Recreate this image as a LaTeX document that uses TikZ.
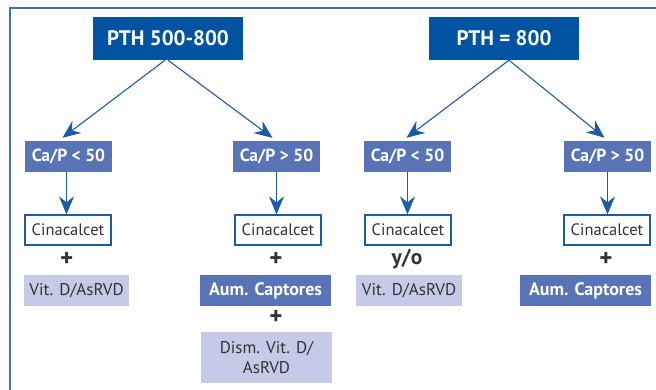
\documentclass[tikz,border=0pt]{standalone}
\usepackage{fontspec}
\setmainfont{PT Sans}
\usetikzlibrary{arrows.meta,positioning}
\definecolor{pthblue}{HTML}{0053A1}
\definecolor{midblue}{HTML}{5874B6}
\definecolor{lightlav}{HTML}{C5CBE6}
\definecolor{linkblue}{HTML}{1C5BA8}
\definecolor{framec}{HTML}{3F70B6}
\definecolor{txt}{HTML}{333333}
\tikzset{
  pthbox/.style={fill=pthblue, text=white, font=\fontsize{21}{23}\selectfont\bfseries, minimum width=150pt, minimum height=43pt, inner sep=0pt},
  cabox/.style={fill=midblue, text=white, font=\fontsize{17.5}{19}\selectfont\bfseries, minimum width=87pt, minimum height=31pt, inner sep=0pt},
  cinbox/.style={draw=linkblue, line width=1.2pt, fill=white, text=txt, font=\fontsize{16.5}{18}\selectfont, minimum width=86pt, minimum height=30pt, inner sep=0pt},
  vitbox/.style={fill=lightlav, text=txt, font=\fontsize{17}{18}\selectfont, minimum height=31pt, inner sep=0pt},
  aumbox/.style={fill=midblue, text=white, font=\fontsize{18}{19}\selectfont\bfseries, minimum width=131pt, minimum height=31pt, inner sep=0pt},
  joiner/.style={text=txt, font=\fontsize{21.5}{22}\selectfont\bfseries, inner sep=0pt},
  plus/.style={text=txt, font=\fontsize{25}{25}\selectfont\bfseries, inner sep=0pt},
  link/.style={draw=linkblue, line width=1.1pt, -{Stealth[length=18pt,width=15pt,inset=6pt]}},
}
\begin{document}
\begin{tikzpicture}[x=1pt,y=-1pt]
\useasboundingbox (0,0) rectangle (656,390);
\draw[framec, line width=2pt] (10,390) -- (10,8) -- (656,8);
% top boxes
\node[pthbox] (pthA) at (168,38.5) {PTH 500-800};
\node[pthbox] (pthB) at (504,38.5) {PTH = 800};
% Ca/P boxes
\node[cabox] (cpA1) at (68.5,156.5) {Ca/P < 50};
\node[cabox] (cpA2) at (276.5,156.5) {Ca/P > 50};
\node[cabox] (cpB1) at (407.5,156.5) {Ca/P < 50};
\node[cabox] (cpB2) at (607.5,156.5) {Ca/P > 50};
% Cinacalcet boxes
\node[cinbox] (cinA1) at (68,230) {Cinacalcet};
\node[cinbox] (cinA2) at (278,230) {Cinacalcet};
\node[cinbox] (cinB1) at (408,230) {Cinacalcet};
\node[cinbox] (cinB2) at (607,230) {Cinacalcet};
% joiners
\node[plus] (plA1) at (66.7,259) {+};
\node[plus] (plA2) at (276,259) {+};
\node[joiner] (yoB1) at (407,259) {y/o};
\node[plus] (plB2) at (606,259) {+};
\node[plus] (plA2b) at (276,317) {+};
% treatment boxes
\node[vitbox, minimum width=105pt] (vitA1) at (76.5,290.5) {Vit. D/AsRVD};
\node[aumbox] (aumA2) at (265.5,290.5) {Aum. Captores};
\node[vitbox, minimum width=131pt, minimum height=51pt, align=center, font=\fontsize{17}{20}\selectfont] (dismA2) at (266.5,357.5) {Dism. Vit. D/\\AsRVD};
\node[vitbox, minimum width=106pt] (vitB1) at (409,290.5) {Vit. D/AsRVD};
\node[aumbox] (aumB2) at (585.5,290.5) {Aum. Captores};
% arrows
\draw[link] ([xshift=-3pt]pthA.south) -- ([shift={(-6,-3)}]cpA1.north);
\draw[link] (pthA.south) -- ([shift={(-4,-3)}]cpA2.north);
\draw[link] ([xshift=5pt]pthB.south) -- ([shift={(-1,-3)}]cpB1.north);
\draw[link] ([xshift=5pt]pthB.south) -- ([shift={(-3,-3)}]cpB2.north);
\draw[link] ([xshift=-2pt]cpA1.south) -- ([xshift=-2pt]cpA1.south |- cinA1.north);
\draw[link] (cpA2.south) -- (cpA2.south |- cinA2.north);
\draw[link] (cpB1.south) -- (cpB1.south |- cinB1.north);
\draw[link] (cpB2.south) -- (cpB2.south |- cinB2.north);
\end{tikzpicture}
\end{document}
